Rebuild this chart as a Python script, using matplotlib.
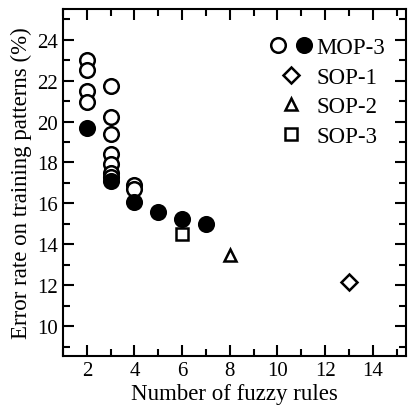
import matplotlib
matplotlib.use("Agg")
import matplotlib.pyplot as plt
from matplotlib.legend_handler import HandlerTuple

plt.rcParams['font.family'] = ['Liberation Serif', 'DejaVu Serif']

# MOP-3 non-dominated solutions (open) and best-error ones (filled)
mop_open_x = [2, 2, 2, 2, 3, 3, 3, 3, 3, 3, 3, 4, 4]
mop_open_y = [23.02, 22.5, 21.5, 20.96, 21.74, 20.2, 19.41, 18.4, 17.95, 17.5, 17.3, 16.9, 16.7]
mop_fill_x = [2, 3, 4, 5, 6, 7]
mop_fill_y = [19.69, 17.1, 16.08, 15.56, 15.25, 15.02]

sop1_x, sop1_y = [13], [12.18]
sop2_x, sop2_y = [8], [13.5]
sop3_x, sop3_y = [6], [14.5]


def main():
    fig = plt.figure(figsize=(4.09, 4.10), dpi=100)
    ax = fig.add_axes([0.154, 0.129, 0.839, 0.847])

    ms = 10.5
    h_open, = ax.plot(mop_open_x, mop_open_y, 'o', ms=ms, mfc='white', mec='black', mew=1.8, ls='none')
    h_fill, = ax.plot(mop_fill_x, mop_fill_y, 'o', ms=ms, mfc='black', mec='black', mew=1.8, ls='none')
    h_s1, = ax.plot(sop1_x, sop1_y, 'D', ms=8, mfc='white', mec='black', mew=1.8, ls='none')
    h_s2, = ax.plot(sop2_x, sop2_y, '^', ms=9, mfc='white', mec='black', mew=1.8, ls='none')
    h_s3, = ax.plot(sop3_x, sop3_y, 's', ms=8, mfc='white', mec='black', mew=1.8, ls='none')

    ax.set_xlim(1.07, 15.4)
    ax.set_ylim(8.55, 25.5)
    ax.set_xticks(range(2, 15, 2))
    ax.set_xticks(range(1, 16), minor=True)
    ax.set_yticks(range(10, 25, 2))
    ax.set_yticks(range(9, 26), minor=True)
    ax.tick_params(which='both', direction='in', top=True, right=True, width=1.5, labelsize=15)
    ax.tick_params(which='major', length=8)
    ax.tick_params(which='minor', length=5)
    for s in ax.spines.values():
        s.set_linewidth(1.5)

    ax.set_xlabel("Number of fuzzy rules", fontsize=16.5, labelpad=2)
    ax.set_ylabel("Error rate on training patterns (%)", fontsize=16.5, labelpad=4)

    ax.legend([(h_open, h_fill), h_s1, h_s2, h_s3], ["MOP-3", "SOP-1", "SOP-2", "SOP-3"],
              handler_map={tuple: HandlerTuple(ndivide=None, pad=0.1)},
              loc='upper right', bbox_to_anchor=(1.015, 0.995), frameon=False,
              fontsize=16.5, handlelength=2.1, handletextpad=0.05,
              labelspacing=0.38, borderaxespad=0.75)

    fig.savefig("out.png", dpi=100)


if __name__ == "__main__":
    main()
